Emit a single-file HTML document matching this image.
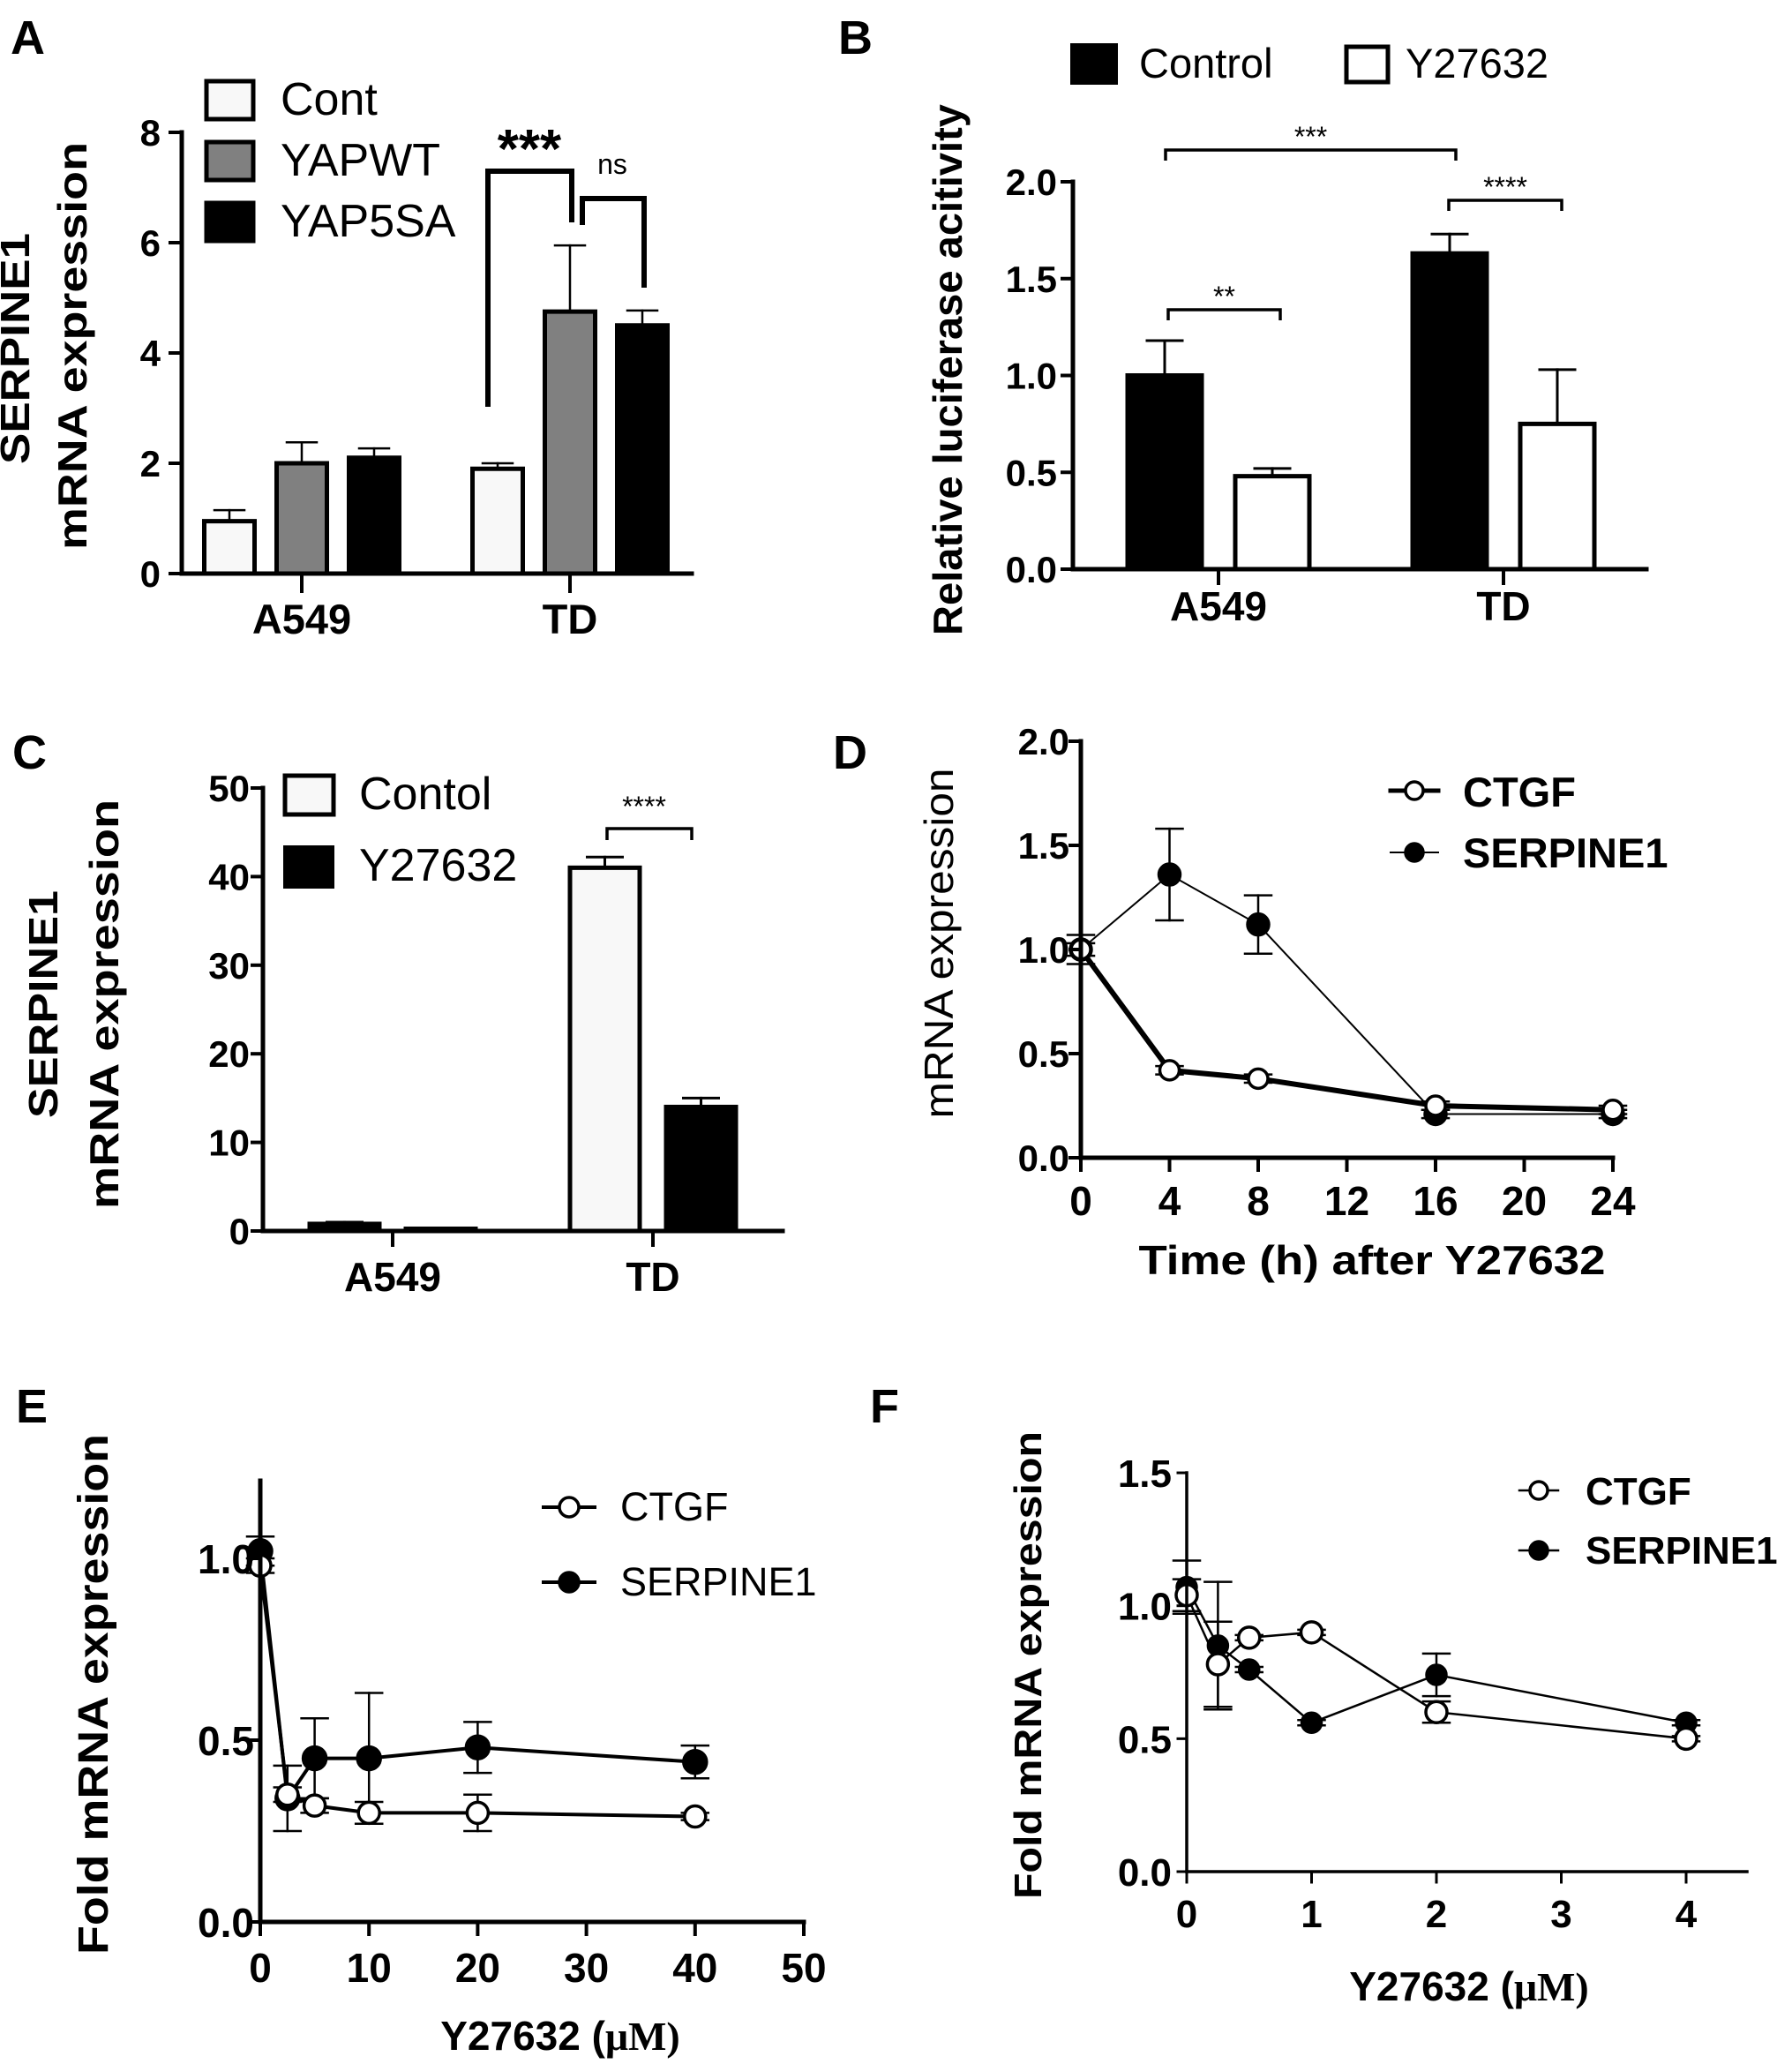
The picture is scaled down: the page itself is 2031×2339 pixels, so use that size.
<!DOCTYPE html>
<html><head><meta charset="utf-8">
<style>
html,body{margin:0;padding:0;background:#fff;}
svg{display:block;}
text{font-family:"Liberation Sans",Arial,sans-serif;fill:#000;}
</style></head>
<body>
<svg id="fig" width="2031" height="2339" viewBox="0 0 2031 2339" xmlns="http://www.w3.org/2000/svg">
<rect x="0" y="0" width="2031" height="2339" fill="#fff"/>
</svg>
<script>
// ---------- Panel A data ----------
const aCategories = ["A549", "TD"];
const aSeries = ["Cont", "YAPWT", "YAP5SA"];
const aValues = [[0.95, 2.0, 2.1], [1.9, 4.75, 4.5]];
const aErrors = [[0.2, 0.38, 0.17], [0.1, 1.2, 0.27]];
const aTicks = [0, 2, 4, 6, 8];
// ---------- Panel B data ----------
const bCategories = ["A549", "TD"];
const bSeries = ["Control", "Y27632"];
const bValues = [[1.0, 0.48], [1.63, 0.75]];
const bErrors = [[0.18, 0.04], [0.1, 0.28]];
const bTicks = [0.0, 0.5, 1.0, 1.5, 2.0];
// ---------- Panel C data ----------
const cCategories = ["A549", "TD"];
const cSeries = ["Contol", "Y27632"];
const cValues = [[0.8, 0.25], [41, 14]];
const cErrors = [[0.2, 0.05], [1.2, 1.0]];
const cTicks = [0, 10, 20, 30, 40, 50];
// ---------- Panel D data ----------
const dTimes = [0, 4, 8, 16, 24];
const dCTGF = [1.0, 0.42, 0.38, 0.25, 0.23];
const dCTGFErr = [0.03, 0.02, 0.02, 0.02, 0.02];
const dSERP = [1.0, 1.36, 1.12, 0.21, 0.21];
const dSERPErr = [0.07, 0.22, 0.14, 0.02, 0.02];
const dYTicks = [0.0, 0.5, 1.0, 1.5, 2.0];
const dXTicks = [0, 4, 8, 12, 16, 20, 24];
// ---------- Panel E data ----------
const eConc = [0, 2.5, 5, 10, 20, 40];
const eCTGF = [0.98, 0.35, 0.32, 0.30, 0.30, 0.29];
const eCTGFErr = [0.02, 0.02, 0.02, 0.03, 0.05, 0.01];
const eSERP = [1.02, 0.34, 0.45, 0.45, 0.48, 0.44];
const eSERPErr = [0.04, 0.09, 0.11, 0.18, 0.07, 0.045];
const eYTicks = [0.0, 0.5, 1.0];
const eXTicks = [0, 10, 20, 30, 40, 50];
// ---------- Panel F data ----------
const fConc = [0, 0.25, 0.5, 1, 2, 4];
const fCTGF = [1.04, 0.78, 0.88, 0.90, 0.60, 0.50];
const fCTGFErr = [0.06, 0.16, 0.01, 0.01, 0.04, 0.01];
const fSERP = [1.07, 0.85, 0.76, 0.56, 0.74, 0.56];
const fSERPErr = [0.1, 0.24, 0.01, 0.01, 0.08, 0.01];
const fYTicks = [0.0, 0.5, 1.0, 1.5];
const fXTicks = [0, 1, 2, 3, 4];

const NS = "http://www.w3.org/2000/svg";
const svg = document.getElementById("fig");
function mk(tag, attrs, name, parent) {
  const el = document.createElementNS(NS, tag);
  for (const k in attrs) el.setAttribute(k, attrs[k]);
  
  
  (parent || svg).appendChild(el);
  return el;
}
function ln(x1, y1, x2, y2, w, name, g) {
  return mk("line", {x1, y1, x2, y2, stroke: "#000", "stroke-width": w, "stroke-linecap": "square"}, name, g);
}
function tx(x, y, s, size, weight, anchor, name, opts, g) {
  const a = {x, y, "font-size": size, "font-weight": weight, "text-anchor": anchor};
  if (opts) for (const k in opts) a[k] = opts[k];
  const el = mk("text", a, name, g);
  el.textContent = s;
  return el;
}
function vtext(cx, cy, s, size, weight, name, len, g) {
  const a = {x: 0, y: 0, "font-size": size, "font-weight": weight, "text-anchor": "middle",
    transform: `translate(${cx},${cy}) rotate(-90)`};
  if (len) { a.textLength = len; a.lengthAdjust = "spacingAndGlyphs"; }
  const el = mk("text", a, name, g);
  el.textContent = s;
  return el;
}
function grp(name) { return mk("g", {}, name); }

// ================= Panel A =================
(function () {
  const g = grp("panel-a");
  const y = v => 650 - v * 62.5;
  const gc = [342, 646], sp = 82, bw = 57;
  const fills = ["#f8f8f8", "#808080", "#000"];
  tx(12, 61, "A", 54, "bold", "start", "panel-label-a", null, g);
  // bars
  aCategories.forEach((c, ci) => {
    aSeries.forEach((s, si) => {
      const cx = gc[ci] + (si - 1) * sp;
      const v = aValues[ci][si], e = aErrors[ci][si];
      ln(cx, y(v), cx, y(v + e), 2.5, "error-bar-" + c + "-" + s, g);
      ln(cx - 17, y(v + e), cx + 17, y(v + e), 2.5, "error-cap-" + c + "-" + s, g);
      mk("rect", {x: cx - bw / 2, y: y(v), width: bw, height: y(0) - y(v), fill: fills[si], stroke: "#000", "stroke-width": 5}, "bar-" + c.toLowerCase() + "-" + s.toLowerCase(), g);
    });
    ln(gc[ci], y(0), gc[ci], y(0) + 20, 4, "x-tick-" + c, g);
    tx(gc[ci], 718, c, 47, "bold", "middle", "x-label-" + c.toLowerCase(), null, g);
  });
  ln(206, y(8), 206, y(0), 5, "y-axis", g);
  ln(206, y(0), 784, y(0), 5, "x-axis", g);
  aTicks.forEach(t => {
    ln(193, y(t), 206, y(t), 4, "y-tick", g);
    tx(182, y(t) + 15, String(t), 42, "bold", "end", "y-tick-label", null, g);
  });
  vtext(33, 395, "SERPINE1", 46, "bold", "y-axis-title-line1", 262, g);
  vtext(98, 392, "mRNA expression", 46, "bold", "y-axis-title-line2", 462, g);
  // legend
  const ly = [90, 159, 228];
  aSeries.forEach((s, i) => {
    mk("rect", {x: 234, y: ly[i] + 2, width: 53, height: 43, fill: fills[i], stroke: "#000", "stroke-width": 5}, "legend-swatch-" + s.toLowerCase(), g);
    tx(318, ly[i] + 40, s, 52, "normal", "start", "legend-label-" + s.toLowerCase(), null, g);
  });
  // significance brackets
  const p = [[553, 461], [553, 194], [648, 194], [648, 252]];
  mk("polyline", {points: p.map(q => q.join(",")).join(" "), fill: "none", stroke: "#000", "stroke-width": 6}, "sig-bracket-yapwt", g);
  tx(600, 190, "***", 62, "bold", "middle", "sig-label-yapwt", null, g);
  const p2 = [[660, 255], [660, 225], [730, 225], [730, 326]];
  mk("polyline", {points: p2.map(q => q.join(",")).join(" "), fill: "none", stroke: "#000", "stroke-width": 6}, "sig-bracket-ns", g);
  tx(694, 197, "ns", 32, "normal", "middle", "sig-label-ns", null, g);
})();

// ================= Panel B =================
(function () {
  const g = grp("panel-b");
  const y = v => 645 - v * 219.5;
  const gc = [1381, 1704], sp = 122, bw = 84;
  const fills = ["#000", "#fff"];
  tx(950, 61, "B", 54, "bold", "start", "panel-label-b", null, g);
  bCategories.forEach((c, ci) => {
    bSeries.forEach((s, si) => {
      const cx = gc[ci] + (si - 0.5) * sp;
      const v = bValues[ci][si], e = bErrors[ci][si];
      ln(cx, y(v), cx, y(v + e), 3, "error-bar-" + c + "-" + s, g);
      ln(cx - 20, y(v + e), cx + 20, y(v + e), 3, "error-cap-" + c + "-" + s, g);
      mk("rect", {x: cx - bw / 2, y: y(v), width: bw, height: y(0) - y(v), fill: fills[si], stroke: "#000", "stroke-width": 5}, "bar-" + c.toLowerCase() + "-" + s.toLowerCase(), g);
    });
    ln(gc[ci], y(0), gc[ci], y(0) + 16, 4, "x-tick-" + c, g);
    tx(gc[ci], 703, c, 46, "bold", "middle", "x-label-" + c.toLowerCase(), null, g);
  });
  ln(1216, y(2), 1216, y(0), 5, "y-axis", g);
  ln(1216, y(0), 1866, y(0), 5, "x-axis", g);
  bTicks.forEach(t => {
    ln(1204, y(t), 1216, y(t), 4, "y-tick", g);
    tx(1198, y(t) + 15, t.toFixed(1), 42, "bold", "end", "y-tick-label", null, g);
  });
  vtext(1090, 419, "Relative luciferase acitivity", 46, "bold", "y-axis-title", 602, g);
  mk("rect", {x: 1215, y: 51, width: 50, height: 43, fill: "#000", stroke: "#000", "stroke-width": 4}, "legend-swatch-control", g);
  tx(1291, 88, "Control", 47, "normal", "start", "legend-label-control", null, g);
  mk("rect", {x: 1526, y: 53, width: 47, height: 40, fill: "#fff", stroke: "#000", "stroke-width": 5}, "legend-swatch-y27632", g);
  tx(1593, 88, "Y27632", 47, "normal", "start", "legend-label-y27632", null, g);
  function br(x1, x2, yb, ty, lbl, name) {
    mk("polyline", {points: `${x1},${yb + 12} ${x1},${yb} ${x2},${yb} ${x2},${yb + 12}`, fill: "none", stroke: "#000", "stroke-width": 3.5}, "sig-bracket-" + name, g);
    tx((x1 + x2) / 2, ty, lbl, 32, "normal", "middle", "sig-label-" + name, null, g);
  }
  br(1321, 1650, 170, 166, "***", "a549-vs-td");
  br(1324, 1451, 351, 347, "**", "a549");
  br(1642, 1770, 227, 223, "****", "td");
})();

// ================= Panel C =================
(function () {
  const g = grp("panel-c");
  const y = v => 1395 - v * 10.04;
  const gc = [445, 740], sp = 109, bw = 79;
  const fills = ["#f8f8f8", "#000"];
  tx(14, 871, "C", 54, "bold", "start", "panel-label-c", null, g);
  cCategories.forEach((c, ci) => {
    cSeries.forEach((s, si) => {
      const cx = gc[ci] + (si - 0.5) * sp;
      const v = cValues[ci][si], e = cErrors[ci][si];
      ln(cx, y(v), cx, y(v + e), 3, "error-bar-" + c + "-" + s, g);
      ln(cx - 20, y(v + e), cx + 20, y(v + e), 3, "error-cap-" + c + "-" + s, g);
      mk("rect", {x: cx - bw / 2, y: y(v), width: bw, height: Math.max(1, y(0) - y(v)), fill: ci === 0 ? "#000" : fills[si], stroke: "#000", "stroke-width": 5}, "bar-" + c.toLowerCase() + "-" + s.toLowerCase(), g);
    });
    ln(gc[ci], y(0), gc[ci], y(0) + 16, 4, "x-tick-" + c, g);
    tx(gc[ci], 1463, c, 46, "bold", "middle", "x-label-" + c.toLowerCase(), null, g);
  });
  ln(298, y(50), 298, y(0), 5, "y-axis", g);
  ln(298, y(0), 887, y(0), 5, "x-axis", g);
  cTicks.forEach(t => {
    ln(286, y(t), 298, y(t), 4, "y-tick", g);
    tx(283, y(t) + 15, String(t), 42, "bold", "end", "y-tick-label", null, g);
  });
  vtext(65, 1138, "SERPINE1", 46, "bold", "y-axis-title-line1", 258, g);
  vtext(134, 1138, "mRNA expression", 46, "bold", "y-axis-title-line2", 464, g);
  mk("rect", {x: 323, y: 879, width: 55, height: 44, fill: "#f8f8f8", stroke: "#000", "stroke-width": 5}, "legend-swatch-contol", g);
  tx(407, 917, "Contol", 52, "normal", "start", "legend-label-contol", null, g);
  mk("rect", {x: 321, y: 958, width: 58, height: 49, fill: "#000"}, "legend-swatch-y27632", g);
  tx(407, 998, "Y27632", 52, "normal", "start", "legend-label-y27632", null, g);
  mk("polyline", {points: "688,952 688,939 784,939 784,952", fill: "none", stroke: "#000", "stroke-width": 3.5}, "sig-bracket-td", g);
  tx(730, 925, "****", 32, "normal", "middle", "sig-label-td", null, g);
})();

// ================= line chart helper =================
function series(g, xs, ys, errs, xf, yf, filled, lw, r, name) {
  const pts = xs.map((x, i) => xf(x) + "," + yf(ys[i])).join(" ");
  mk("polyline", {points: pts, fill: "none", stroke: "#000", "stroke-width": lw}, "line-" + name, g);
  xs.forEach((x, i) => {
    const cx = xf(x), t = yf(ys[i] + errs[i]), b = yf(ys[i] - errs[i]);
    ln(cx, t, cx, b, 2.5, "error-bar-" + name, g);
    ln(cx - 15, t, cx + 15, t, 2.5, "error-cap-" + name, g);
    ln(cx - 15, b, cx + 15, b, 2.5, "error-cap-" + name, g);
  });
  xs.forEach((x, i) => {
    mk("circle", {cx: xf(x), cy: yf(ys[i]), r: r, fill: filled ? "#000" : "#fff", stroke: "#000", "stroke-width": 3.5}, "point-" + name, g);
  });
}
function legendEntry(g, x1, x2, yy, filled, lw, r, label, tx0, ty, size, weight, name) {
  ln(x1, yy, x2, yy, lw, "legend-line-" + name, g);
  mk("circle", {cx: (x1 + x2) / 2, cy: yy, r: r, fill: filled ? "#000" : "#fff", stroke: "#000", "stroke-width": 3.5}, "legend-marker-" + name, g);
  tx(tx0, ty, label, size, weight, "start", "legend-label-" + name, null, g);
}

// ================= Panel D =================
(function () {
  const g = grp("panel-d");
  const x = t => 1225 + t * 25.125;
  const y = v => 1312 - v * 236;
  tx(944, 871, "D", 54, "bold", "start", "panel-label-d", null, g);
  series(g, dTimes, dSERP, dSERPErr, x, y, true, 2, 12, "serpine1");
  series(g, dTimes, dCTGF, dCTGFErr, x, y, false, 6, 11, "ctgf");
  ln(1225, y(2), 1225, y(0), 5, "y-axis", g);
  ln(1225, y(0), x(24), y(0), 5, "x-axis", g);
  dYTicks.forEach(t => {
    ln(1213, y(t), 1225, y(t), 4, "y-tick", g);
    tx(1212, y(t) + 15, t.toFixed(1), 42, "bold", "end", "y-tick-label", null, g);
  });
  dXTicks.forEach(t => {
    ln(x(t), y(0), x(t), y(0) + 14, 4, "x-tick", g);
    tx(x(t), 1377, String(t), 46, "bold", "middle", "x-tick-label", null, g);
  });
  tx(1555, 1444, "Time (h) after Y27632", 46, "bold", "middle", "x-axis-title", {textLength: 529, lengthAdjust: "spacingAndGlyphs"}, g);
  vtext(1080, 1069, "mRNA expression", 46, "normal", "y-axis-title", 397, g);
  legendEntry(g, 1576, 1630, 896, false, 5, 10, "CTGF", 1658, 914, 47, "bold", "ctgf");
  legendEntry(g, 1576, 1630, 966, true, 2, 10, "SERPINE1", 1658, 983, 47, "bold", "serpine1");
})();

// ================= Panel E =================
(function () {
  const g = grp("panel-e");
  const x = c => 295 + c * 12.32;
  const y = v => 2178 - v * 412;
  tx(18, 1612, "E", 54, "bold", "start", "panel-label-e", null, g);
  series(g, eConc, eSERP, eSERPErr, x, y, true, 4, 13, "serpine1");
  series(g, eConc, eCTGF, eCTGFErr, x, y, false, 4, 12, "ctgf");
  ln(295, 1678, 295, y(0), 5, "y-axis", g);
  ln(295, y(0), x(50), y(0), 5, "x-axis", g);
  eYTicks.forEach(t => {
    ln(283, y(t), 295, y(t), 4, "y-tick", g);
    tx(288, y(t) + 17, t.toFixed(1), 46, "bold", "end", "y-tick-label", null, g);
  });
  eXTicks.forEach(t => {
    ln(x(t), y(0), x(t), y(0) + 14, 4, "x-tick", g);
    tx(x(t), 2246, String(t), 46, "bold", "middle", "x-tick-label", null, g);
  });
  const xt = tx(635, 2323, "Y27632 (", 46, "bold", "middle", "x-axis-title", null, g);
  xt.textContent = "";
  const t1 = mk("tspan", {}, "x-axis-title-name", xt); t1.textContent = "Y27632 (";
  const t2 = mk("tspan", {"font-family": "Liberation Serif, serif"}, "x-axis-title-unit", xt); t2.textContent = "μM)";
  vtext(122, 1920, "Fold mRNA expression", 48, "bold", "y-axis-title", 590, g);
  legendEntry(g, 616, 674, 1708, false, 4, 11, "CTGF", 703, 1723, 45, "normal", "ctgf");
  legendEntry(g, 616, 674, 1793, true, 4, 11, "SERPINE1", 703, 1808, 45, "normal", "serpine1");
})();

// ================= Panel F =================
(function () {
  const g = grp("panel-f");
  const x = c => 1345 + c * 141.5;
  const y = v => 2121 - v * 301.3;
  tx(986, 1612, "F", 54, "bold", "start", "panel-label-f", null, g);
  series(g, fConc, fSERP, fSERPErr, x, y, true, 2.5, 11, "serpine1");
  series(g, fConc, fCTGF, fCTGFErr, x, y, false, 2.5, 12, "ctgf");
  ln(1345, y(1.5), 1345, y(0), 3.5, "y-axis", g);
  ln(1345, y(0), 1980, y(0), 3.5, "x-axis", g);
  fYTicks.forEach(t => {
    ln(1335, y(t), 1345, y(t), 3, "y-tick", g);
    tx(1328, y(t) + 16, t.toFixed(1), 44, "bold", "end", "y-tick-label", null, g);
  });
  fXTicks.forEach(t => {
    ln(x(t), y(0), x(t), y(0) + 12, 3, "x-tick", g);
    tx(x(t), 2184, String(t), 44, "bold", "middle", "x-tick-label", null, g);
  });
  const xt = tx(1665, 2267, "", 46, "bold", "middle", "x-axis-title", null, g);
  const t1 = mk("tspan", {}, "x-axis-title-name", xt); t1.textContent = "Y27632 (";
  const t2 = mk("tspan", {"font-family": "Liberation Serif, serif"}, "x-axis-title-unit", xt); t2.textContent = "μM)";
  vtext(1180, 1887, "Fold mRNA expression", 44, "bold", "y-axis-title", 530, g);
  legendEntry(g, 1722, 1766, 1689, false, 2.5, 10, "CTGF", 1797, 1705, 44, "bold", "ctgf");
  legendEntry(g, 1722, 1766, 1757, true, 2.5, 10, "SERPINE1", 1797, 1772, 44, "bold", "serpine1");
})();
</script>
</body></html>
